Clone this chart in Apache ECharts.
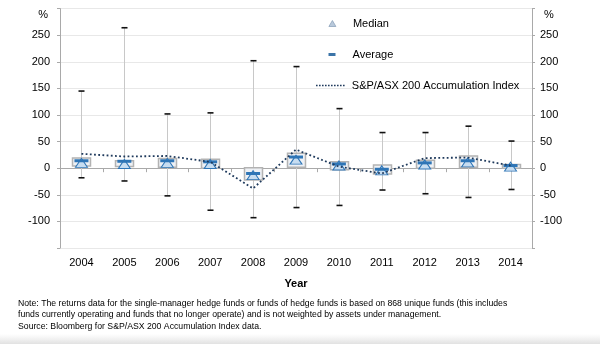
<!DOCTYPE html>
<html>
<head>
<meta charset="utf-8">
<script src="https://cdn.jsdelivr.net/npm/echarts@6/dist/echarts.min.js"></script>
<style>html,body{margin:0;padding:0;background:#fff}#c{width:600px;height:344px}</style>
</head>
<body>
<div id="c"></div>
<script>
const years = ['2004','2005','2006','2007','2008','2009','2010','2011','2012','2013','2014'];
const maxV = [145, 264, 102, 104, 202, 191, 112, 67, 67, 79, 51];
const minV = [-18, -24, -52, -79, -93, -74, -70, -41, -48, -55, -40];
const boxHigh = [19, 14, 18, 17, 1, 28, 12, 6, 15, 23, 7];
const boxLow = [4, 3, 2, 0, -22, 2, -3, -11, 0, 2, 0];
const medianV = [10, 8, 10, 8, -13, 16, 5, -4, 7, 11, 3];
const averageV = [14, 13, 14, 12, -10, 21, 8, -2, 10, 14, 5];
const indexV = [27, 22, 23, 12, -38, 35, 3, -10, 19, 20, 5];

const FONT = '"Liberation Sans", Arial, Helvetica, sans-serif';
const AX = '#a9a9a9';
const NAVY = '#1f3a5c';

const chart = echarts.init(document.getElementById('c'), null, {renderer: 'canvas'});

function yLabel(v) {
  if (v === 300) return '{p|%}';
  if (v === -150) return '';
  return String(v);
}

function renderItem(params, api) {
  const i = api.value(0);
  const pMax = api.coord([i, api.value(1)]);
  const pMin = api.coord([i, api.value(2)]);
  const pHi = api.coord([i, api.value(3)]);
  const pLo = api.coord([i, api.value(4)]);
  const x = Math.round(pMax[0]) + 0.5;
  const bw = 18, cw = 6;
  return {
    type: 'group',
    children: [
      {type: 'line', shape: {x1: x, y1: pMax[1], x2: x, y2: pMin[1]}, style: {stroke: '#c8c8c8', lineWidth: 1}},
      {type: 'rect', shape: {x: x - bw / 2, y: pHi[1], width: bw, height: pLo[1] - pHi[1]},
        style: {fill: '#eef1f5', stroke: '#b3b3b3', lineWidth: 1.5}},
      {type: 'line', shape: {x1: x - cw / 2, y1: pMax[1], x2: x + cw / 2, y2: pMax[1]}, style: {stroke: '#111', lineWidth: 1.6}},
      {type: 'line', shape: {x1: x - cw / 2, y1: pMin[1], x2: x + cw / 2, y2: pMin[1]}, style: {stroke: '#111', lineWidth: 1.6}}
    ]
  };
}

const yAxisBase = {
  type: 'value', min: -150, max: 300, interval: 50,
  axisLine: {show: true, lineStyle: {color: AX, width: 1}},
  axisTick: {show: true, length: 3, lineStyle: {color: AX}},
  axisLabel: {color: '#000', fontSize: 11, fontFamily: FONT, formatter: yLabel}
};

const dots = 'path://' + Array.from({length: 10}, (_, k) => 'M' + (k * 3) + ',0h1.6v1.6h-1.6z').join('');

const option = {
  animation: false,
  backgroundColor: '#fff',
  textStyle: {fontFamily: FONT},
  grid: {left: 60, right: 68, top: 8.6, bottom: 96, containLabel: false},
  xAxis: [
    {
      type: 'category', data: years, position: 'bottom',
      axisLine: {show: false, onZero: false}, axisTick: {show: false},
      axisLabel: {color: '#000', fontSize: 11, fontFamily: FONT, margin: 9},
      name: 'Year', nameLocation: 'middle', nameGap: 30,
      nameTextStyle: {color: '#000', fontSize: 11, fontWeight: 'bold', fontFamily: FONT},
      splitLine: {show: false}
    },
    {
      type: 'category', data: years, position: 'bottom',
      axisLine: {show: true, onZero: true, onZeroAxisIndex: 0, lineStyle: {color: AX, width: 1}},
      axisTick: {show: true, length: 4, lineStyle: {color: AX}},
      axisLabel: {show: false}, splitLine: {show: false}
    }
  ],
  yAxis: [
    Object.assign({}, yAxisBase, {position: 'left',
      axisLabel: Object.assign({}, yAxisBase.axisLabel, {margin: 10,
        rich: {p: {fontSize: 11, fontFamily: FONT, color: '#000', padding: [12, 2, 0, 0]}}}),
      splitLine: {show: true, lineStyle: {color: '#e8e8e8', width: 1}}}),
    Object.assign({}, yAxisBase, {position: 'right',
      axisLabel: Object.assign({}, yAxisBase.axisLabel, {margin: 8,
        rich: {p: {fontSize: 11, fontFamily: FONT, color: '#000', padding: [12, 0, 0, 4]}}}),
      splitLine: {show: false}})
  ],
  legend: [
    {
      data: [{name: 'Median', icon: 'triangle',
        itemStyle: {color: '#b9c9db', borderColor: '#8ea3bb', borderWidth: 0.8}}],
      orient: 'vertical', left: 328.5, top: 18, padding: 0,
      itemWidth: 7, itemHeight: 6, selectedMode: false,
      textStyle: {color: '#000', fontSize: 11, fontFamily: FONT, padding: [0, 0, 0, 12]}
    },
    {
      data: [{name: 'Average', icon: 'rect', itemStyle: {color: '#3b74a8'}}],
      orient: 'vertical', left: 328.5, top: 49, padding: 0,
      itemWidth: 7, itemHeight: 3, selectedMode: false,
      textStyle: {color: '#000', fontSize: 11, fontFamily: FONT, padding: [0, 0, 0, 12]}
    },
    {
      data: [{name: 'S&P/ASX 200 Accumulation Index', icon: dots, itemStyle: {color: NAVY}}],
      orient: 'vertical', left: 316, top: 80, padding: 0,
      itemWidth: 29, itemHeight: 1.6, selectedMode: false,
      textStyle: {color: '#000', fontSize: 11, fontFamily: FONT, padding: [0, 0, 0, 2]}
    }
  ],
  series: [
    {
      type: 'custom', name: 'range', renderItem: renderItem, z: 2,
      encode: {x: 0, y: [1, 2, 3, 4]},
      data: years.map((y, i) => [i, maxV[i], minV[i], boxHigh[i], boxLow[i]])
    },
    {
      type: 'scatter', name: 'Median', data: medianV, z: 3,
      symbol: 'triangle', symbolSize: [12, 9],
      itemStyle: {color: '#c7ddf1', borderColor: '#2e75b6', borderWidth: 1, opacity: 1}
    },
    {
      type: 'scatter', name: 'Average', data: averageV, z: 4,
      symbol: 'rect', symbolSize: [14, 3],
      itemStyle: {color: '#2e75b6', opacity: 1}
    },
    {
      type: 'line', name: 'S&P/ASX 200 Accumulation Index', data: indexV, z: 5,
      symbol: 'none', showSymbol: false, smooth: false,
      lineStyle: {color: NAVY, width: 1.8, type: [1.8, 2.4]},
      itemStyle: {color: NAVY}
    }
  ],
  graphic: [
    {type: 'rect', left: 0, top: 334, shape: {width: 600, height: 10}, silent: true,
      style: {fill: new echarts.graphic.LinearGradient(0, 0, 0, 1, [{offset: 0, color: 'rgba(230,230,230,0)'}, {offset: 1, color: 'rgba(225,225,225,1)'}])}},
    {type: 'text', left: 18, top: 299.5, silent: true,
      style: {text: 'Note: The returns data for the single-manager hedge funds or funds of hedge funds is based on 868 unique funds (this includes', fill: '#000', font: '8.7px ' + FONT}},
    {type: 'text', left: 18, top: 309.8, silent: true,
      style: {text: 'funds currently operating and funds that no longer operate) and is not weighted by assets under management.', fill: '#000', font: '8.7px ' + FONT}},
    {type: 'text', left: 18, top: 322.3, silent: true,
      style: {text: 'Source: Bloomberg for S&P/ASX 200 Accumulation Index data.', fill: '#000', font: '8.7px ' + FONT}}
  ]
};

chart.setOption(option);
</script>
</body>
</html>
